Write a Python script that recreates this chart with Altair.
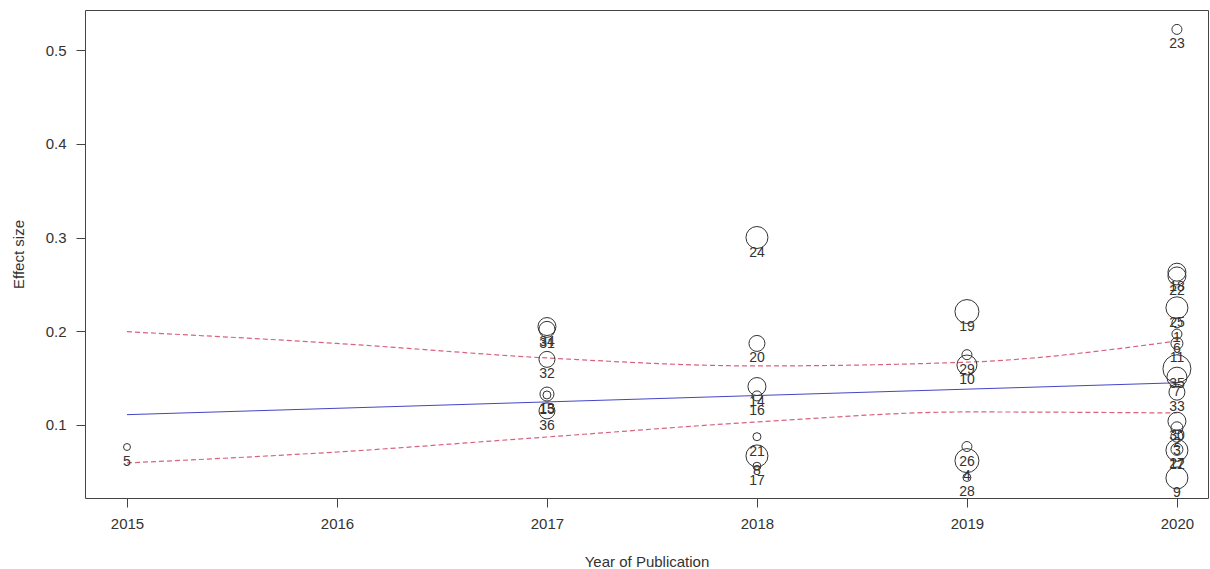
import altair as alt
import pandas as pd
import numpy as np

# Study-level data: id, publication year, effect size, relative weight
study = [5,
         34, 31, 32, 13, 15, 36,
         24, 20, 14, 16, 21, 8, 17,
         19, 29, 10, 26, 4, 28,
         23, 18, 22, 25, 1, 6, 11, 35, 7, 33, 30, 2, 3, 12, 27, 9]
year = [2015,
        2017, 2017, 2017, 2017, 2017, 2017,
        2018, 2018, 2018, 2018, 2018, 2018, 2018,
        2019, 2019, 2019, 2019, 2019, 2019,
        2020, 2020, 2020, 2020, 2020, 2020, 2020, 2020,
        2020, 2020, 2020, 2020, 2020, 2020, 2020, 2020]
effect = [0.0765,
          0.205, 0.202, 0.170, 0.133, 0.132, 0.115,
          0.300, 0.187, 0.141, 0.131, 0.0875, 0.067, 0.056,
          0.221, 0.175, 0.164, 0.077, 0.062, 0.044,
          0.522, 0.263, 0.259, 0.225, 0.209, 0.197, 0.187, 0.160,
          0.151, 0.135, 0.104, 0.097, 0.088, 0.073, 0.074, 0.0435]
weight = [12,
          81, 64, 64, 49, 16, 64,
          121, 64, 81, 25, 16, 121, 16,
          144, 25, 100, 25, 144, 16,
          25, 81, 81, 121, 25, 25, 36, 196,
          100, 64, 81, 36, 36, 121, 36, 121]

# Meta-regression: predicted effect at 2015 and slope per year
fit_at_2015 = 0.111
fit_slope = 0.0068

# Confidence band of the fitted line
band_years = [2015, 2016, 2017, 2018, 2019, 2020]
ci_upper = [0.1995, 0.187, 0.1715, 0.163, 0.167, 0.1896]
ci_lower = [0.0595, 0.0712, 0.0872, 0.1032, 0.1139, 0.1128]

x_ticks = [2015, 2016, 2017, 2018, 2019, 2020]
y_ticks = [0.1, 0.2, 0.3, 0.4, 0.5]

points = pd.DataFrame({"study": study, "year": year, "effect": effect, "weight": weight})
fit_years = np.linspace(2015, 2020, 11)
fit = pd.DataFrame({"year": fit_years, "effect": fit_at_2015 + fit_slope * (fit_years - 2015)})
band = pd.DataFrame({"year": band_years * 2,
                     "effect": ci_upper + ci_lower,
                     "side": ["upper"] * 6 + ["lower"] * 6})

FONT = "Liberation Sans"
TEXT = "#333333"

x_enc = alt.X("year:Q",
              scale=alt.Scale(domain=[2014.8, 2020.148], nice=False, zero=False),
              axis=alt.Axis(values=x_ticks, format="d", title="Year of Publication",
                            tickSize=9, labelPadding=9,
                            titleY=63, titleBaseline="middle"))
y_enc = alt.Y("effect:Q",
              scale=alt.Scale(domain=[0.0221, 0.5427], nice=False, zero=False),
              axis=alt.Axis(values=y_ticks, format=".1f", title="Effect size",
                            tickSize=9, labelPadding=10,
                            titleX=-67, titleY=244, titleBaseline="middle"))

circles = alt.Chart(points).mark_point(
    shape="circle", filled=False, stroke="#333333", strokeWidth=1, opacity=1
).encode(
    x=x_enc, y=y_enc,
    size=alt.Size("weight:Q", scale=alt.Scale(domain=[0, 200], range=[0, 800]), legend=None),
)

labels = alt.Chart(points).mark_text(
    dy=15, font=FONT, fontSize=14, color=TEXT, baseline="middle"
).encode(x="year:Q", y="effect:Q", text="study:N")

fit_line = alt.Chart(fit).mark_line(color="#4545c8", strokeWidth=1).encode(
    x="year:Q", y="effect:Q")

band_lines = alt.Chart(band).mark_line(
    color="#d9637f", strokeWidth=1.2, strokeDash=[5, 3], interpolate="monotone"
).encode(x="year:Q", y="effect:Q", detail="side:N")

chart = alt.layer(band_lines, fit_line, circles, labels).properties(
    width=1123, height=488,
    padding={"left": 85, "top": 10, "right": 2, "bottom": 71},
    autosize=alt.AutoSizeParams(type="none"),
    background="white",
).configure_view(
    stroke="#444444", strokeWidth=1
).configure_axis(
    domain=False, grid=False, ticks=True, tickColor="#444444", tickWidth=1,
    labelFont=FONT, labelFontSize=15, labelColor=TEXT,
    titleFont=FONT, titleFontSize=15, titleFontWeight="normal", titleColor=TEXT,
)

chart.save("out.html", embed_options={"renderer": "svg", "actions": False})
